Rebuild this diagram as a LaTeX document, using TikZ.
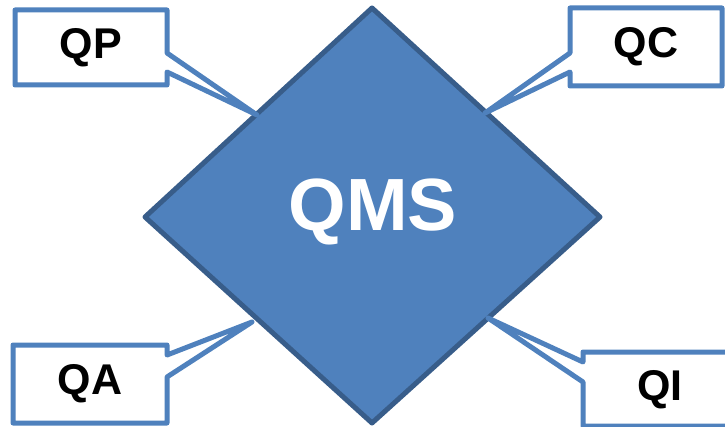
\documentclass[tikz,border=0pt]{standalone}
\usepackage{fontspec}
\setmainfont{Liberation Sans}
\begin{document}
\begin{tikzpicture}[x=1pt,y=-1pt,
  qfill/.style={fill={rgb,255:red,79;green,129;blue,189}},
  qdark/.style={draw={rgb,255:red,56;green,93;blue,138},line width=5pt,line join=round},
  callout/.style={draw={rgb,255:red,79;green,129;blue,189},fill=white,line width=5pt,line join=round},
  boxlabel/.style={font=\bfseries\fontsize{43}{43}\selectfont,text=black,inner sep=0pt},
  mainlabel/.style={font=\bfseries\fontsize{74}{74}\selectfont,text=white,inner sep=0pt}]
\clip (0,0) rectangle (725,427);
% diamond
\coordinate (dT) at (372,8);
\coordinate (dR) at (600,217);
\coordinate (dB) at (372,423);
\coordinate (dL) at (145,217);
\draw[qfill,qdark] (dT) -- (dR) -- (dB) -- (dL) -- cycle;
\node[mainlabel] (qms) at (373,212) {QMS};
% callout QP
\coordinate (tipP) at (257,115);
\draw[callout] (15,10) -- (167,10) -- (167,53) -- (tipP) -- (167,72) -- (167,85) -- (15,85) -- cycle;
\node[boxlabel] (qp) at (91,48) {QP};
% callout QC
\coordinate (tipC) at (485,113);
\draw[callout] (570,8) -- (722,8) -- (722,86) -- (570,86) -- (570,72) -- (tipC) -- (570,53) -- cycle;
\node[boxlabel] (qc) at (646,47) {QC};
% callout QA
\coordinate (tipA) at (252,322);
\draw[callout] (13,345) -- (167,345) -- (167,355) -- (tipA) -- (167,377) -- (167,423) -- (13,423) -- cycle;
\node[boxlabel] (qa) at (90,384) {QA};
% callout QI
\coordinate (tipI) at (488,318);
\draw[callout] (583,352) -- (740,352) -- (740,426) -- (583,426) -- (583,382) -- (tipI) -- (583,362) -- cycle;
\node[boxlabel] (qi) at (660,390) {QI};
\end{tikzpicture}
\end{document}
